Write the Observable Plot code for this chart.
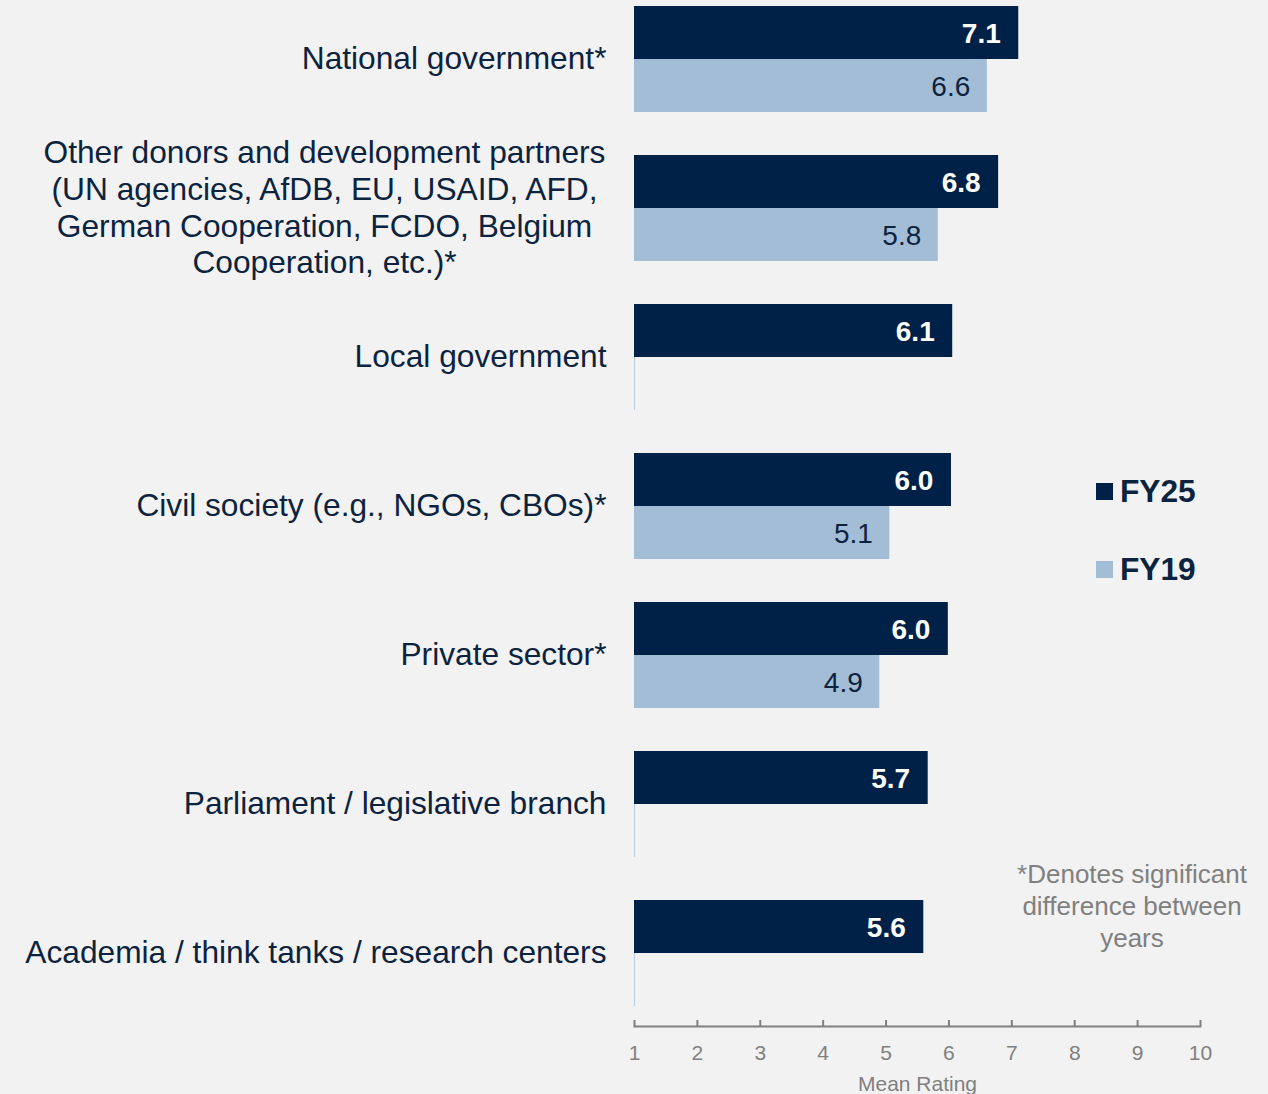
<!DOCTYPE html>
<html>
<head>
<meta charset="utf-8">
<script src="https://cdn.jsdelivr.net/npm/d3@7"></script>
<script src="https://cdn.jsdelivr.net/npm/@observablehq/plot@0.6"></script>
<style>
  html, body { margin: 0; padding: 0; background: #f2f2f2; }
  #wrap { position: relative; width: 1268px; height: 1094px; overflow: hidden; font-family: "Liberation Sans", Arial, sans-serif; }
  .legend-item { position: absolute; left: 1096px; display: flex; align-items: center; height: 36px; font-weight: bold; font-size: 31.7px; color: #0c2340; }
  .legend-item .sw { width: 17px; height: 17px; margin-right: 7px; }
  #note { position: absolute; left: 1000px; top: 858px; width: 264px; text-align: center; font-size: 26px; line-height: 32px; color: #808080; }
</style>
</head>
<body>
<div id="wrap"></div>
<script>
const categories = [
  "National government*",
  "Other donors and development partners\n(UN agencies, AfDB, EU, USAID, AFD,\nGerman Cooperation, FCDO, Belgium\nCooperation, etc.)*",
  "Local government",
  "Civil society (e.g., NGOs, CBOs)*",
  "Private sector*",
  "Parliament / legislative branch",
  "Academia / think tanks / research centers"
];
const series = ["FY25", "FY19"];
const fy25 = [7.11, 6.79, 6.06, 6.04, 5.99, 5.67, 5.60];
const fy19 = [6.61, 5.83, null, 5.06, 4.90, null, null];
const xTicks = [1, 2, 3, 4, 5, 6, 7, 8, 9, 10];
const xLabel = "Mean Rating";
const note = ["*Denotes significant", "difference between", "years"];

const colors = { FY25: "#002147", FY19: "#a3bdd6" };
const navy = "#0c2340";
const gray = "#808080";

const rows = [];
categories.forEach((c, i) => {
  rows.push({ category: c, series: "FY25", value: fy25[i] });
  rows.push({ category: c, series: "FY19", value: fy19[i] });
});
const r25 = rows.filter(d => d.series === "FY25" && d.value != null);
const r19 = rows.filter(d => d.series === "FY19" && d.value != null);
const r19missing = rows.filter(d => d.series === "FY19" && d.value == null);

const single = categories.filter(c => !c.includes("\n"));
const multi = categories.filter(c => c.includes("\n"));

const chart = Plot.plot({
  width: 1268,
  height: 1094,
  marginLeft: 634,
  marginRight: 68,
  marginTop: 6,
  marginBottom: 68,
  style: { background: "#f2f2f2", fontFamily: "'Liberation Sans', Arial, sans-serif", overflow: "visible" },
  x: { domain: [1, 10] },
  y: { type: "band", domain: categories, range: [6, 1006], paddingInner: 43 / 149, paddingOuter: 0, axis: null },
  marks: [
    Plot.barX(r25, { x1: d => 1, x2: "value", y: "category", fill: colors.FY25, insetBottom: 53 }),
    Plot.barX(r19, { x1: d => 1, x2: "value", y: "category", fill: colors.FY19, insetTop: 53 }),
    Plot.tickX(r19missing, { x: d => 1, y: "category", insetTop: 53, stroke: "#bccfe1", strokeWidth: 1.2 }),
    Plot.text(r25, { x: "value", y: "category", text: d => d.value.toFixed(1), textAnchor: "end", dx: -18, dy: -25, fontSize: 28, fontWeight: "bold", fill: "white" }),
    Plot.text(r19, { x: "value", y: "category", text: d => d.value.toFixed(1), textAnchor: "end", dx: -17, dy: 28, fontSize: 28, fill: navy }),
    Plot.text(single, { y: d => d, frameAnchor: "left", textAnchor: "end", dx: -28, dy: -1, fontSize: 31.7, fill: navy }),
    Plot.text(multi, { y: d => d, frameAnchor: "left", textAnchor: "middle", dx: -310, dy: -2, fontSize: 31.7, lineHeight: 1.155, fill: navy }),
    Plot.frame({ anchor: "bottom", stroke: gray, strokeWidth: 2 }),
    Plot.ruleX(xTicks, { x: d => d, insetTop: 1014, stroke: gray, strokeWidth: 2 }),
    Plot.axisX({ ticks: xTicks, tickSize: 0, tickPadding: 19, fontSize: 21, color: gray, label: null, tickFormat: d => String(d) }),
    Plot.text([xLabel], { frameAnchor: "bottom", dy: 64, fontSize: 21, fill: gray })
  ]
});

const wrap = document.getElementById("wrap");
wrap.appendChild(chart);

const legendTops = { FY25: 491 - 18, FY19: 569 - 18 };
series.forEach(s => {
  const item = document.createElement("div");
  item.className = "legend-item";
  item.style.top = legendTops[s] + "px";
  const sw = document.createElement("div");
  sw.className = "sw";
  sw.style.background = colors[s];
  const t = document.createElement("span");
  t.textContent = s;
  item.appendChild(sw);
  item.appendChild(t);
  wrap.appendChild(item);
});

const n = document.createElement("div");
n.id = "note";
n.innerHTML = note.map(l => l.replace(/&/g, "&amp;").replace(/</g, "&lt;")).join("<br>");
wrap.appendChild(n);
</script>
</body>
</html>
